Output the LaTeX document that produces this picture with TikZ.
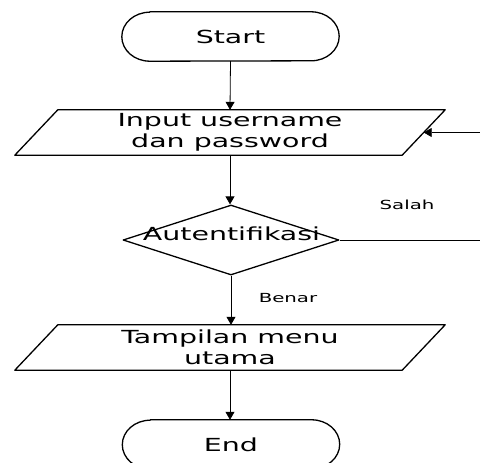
\documentclass[tikz,border=0pt]{standalone}
\usepackage{fontspec}
\setmainfont{DejaVu Sans}
\newfontfamily\wide[FakeStretch=1.58]{DejaVu Sans}
\usetikzlibrary{arrows.meta,shapes.geometric,calc}
\begin{document}
\begin{tikzpicture}[x=1pt,y=1pt,
  txt/.style={font=\wide\fontsize{18}{21}\selectfont},
  box/.style={txt,minimum width=387pt,minimum height=45pt,inner sep=0pt,align=center},
  term/.style={txt,minimum width=217pt,minimum height=49pt,inner sep=0pt},
  shp/.style={line width=1.3pt,line join=round},
  conn/.style={line width=0.8pt,-{Triangle[length=8pt,width=9pt]}},
  lbl/.style={font=\wide\fontsize{12.5}{14}\selectfont}]
\useasboundingbox (0,0) rectangle (480,-463);
\fill[white] (0,0) rectangle (480,-463);
\clip (0,0) rectangle (480,-463);

% nodes
\node[term] (start) at (230.5,-36.5) {Start};
\node[box] (in) at (230,-132.5) {Input username\\dan password};
\node[diamond,draw,shp,minimum width=216pt,minimum height=70pt,inner sep=0pt] (dec) at (231,-240) {};
\node[txt] (dectext) at (231.5,-234) {Autentifikasi};
\node[box] (menu) at (230,-347.5) {Tampilan menu\\utama};
\node[term] (end) at (231,-444.5) {End};
\node[lbl] (salah) at (407,-205) {Salah};
\node[lbl] (benar) at (288,-298) {Benar};
\coordinate (loopc) at (492,-240);

% terminal outlines
\foreach \n in {start,end}{
  \draw[shp] ($(\n.north west)+(28,0)$) -- ($(\n.north east)+(-28,0)$)
    arc[start angle=90,end angle=-90,x radius=28,y radius=24.5]
    -- ($(\n.south west)+(28,0)$)
    arc[start angle=270,end angle=90,x radius=28,y radius=24.5] -- cycle;
}
% parallelogram outlines
\foreach \n in {in,menu}{
  \draw[shp] ($(\n.north west)+(21.5,0)$) -- ($(\n.north east)+(21.5,0)$)
    -- ($(\n.south east)+(-21.5,0)$) -- ($(\n.south west)+(-21.5,0)$) -- cycle;
}

% connectors
\draw[conn] (start.south) -- (in.north);
\draw[conn] (in.south) -- (in.south |- dec.north);
\draw[conn] (dec.south) -- (dec.south |- menu.north);
\draw[conn] (menu.south) -- (menu.south |- end.north);
\draw[conn] (dec.east) -- (loopc) |- (in.east);
\end{tikzpicture}
\end{document}
